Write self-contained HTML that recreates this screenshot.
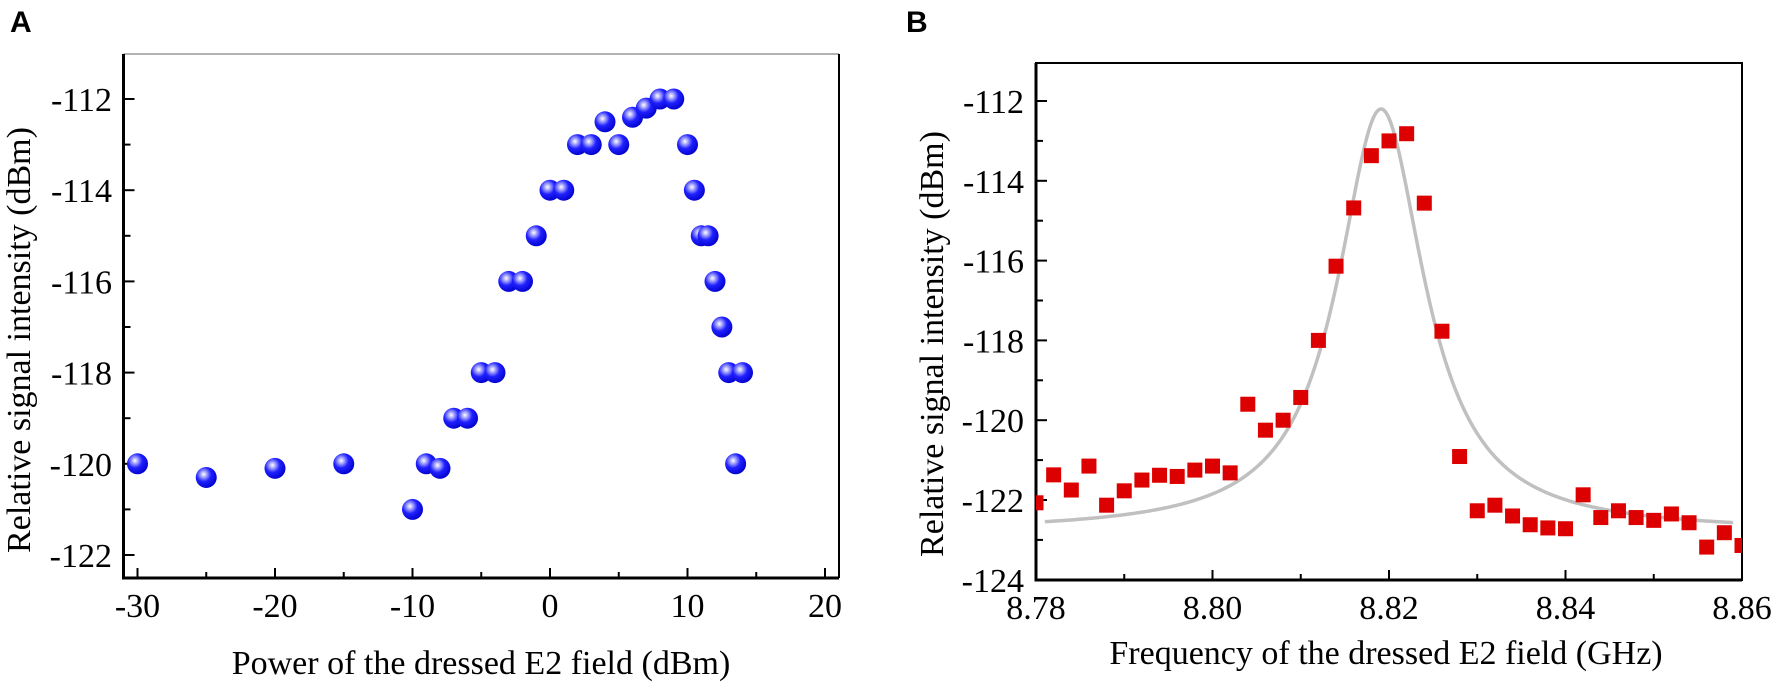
<!DOCTYPE html>
<html><head><meta charset="utf-8"><style>
html,body{margin:0;padding:0;background:#fff;}
svg{display:block;}
text{font-family:"Liberation Serif",serif;fill:#000;}
.pl{font-family:"Liberation Sans",sans-serif;font-weight:bold;font-size:30px;}
.tk{font-size:34px;}
.al{font-size:34px;}
</style></head><body>
<svg id="fig" width="1772" height="683" viewBox="0 0 1772 683" xmlns="http://www.w3.org/2000/svg">
<defs>
<radialGradient id="ball" cx="0.38" cy="0.35" r="0.7">
<stop offset="0" stop-color="#ffffff"/><stop offset="0.18" stop-color="#b0b0ff"/><stop offset="0.5" stop-color="#2020ff"/><stop offset="1" stop-color="#0000c8"/>
</radialGradient>
</defs>
<text class="pl" x="10" y="32">A</text>
<text class="pl" x="906" y="32">B</text>
<g id="pa"></g>
<g id="pb"></g>
</svg>
<script>
// Panel A data
const aX = [-30,-25,-20,-15,-10,-9,-8,-7,-6,-5,-4,-3,-2,-1,0,1,2,3,4,5,6,7,8,9,10,10.5,11,11.5,12,12.5,13,13.5,14];
const aY = [-120,-120.3,-120.1,-120,-121,-120,-120.1,-119,-119,-118,-118,-116,-116,-115,-114,-114,-113,-113,-112.5,-113,-112.4,-112.2,-112,-112,-113,-114,-115,-115,-116,-117,-118,-120,-118];
const aXTicks = [-30,-20,-10,0,10,20];
const aYTicks = [-112,-114,-116,-118,-120,-122];
// Panel B data
const bX = [8.780,8.782,8.784,8.786,8.788,8.790,8.792,8.794,8.796,8.798,8.800,8.802,8.804,8.806,8.808,8.810,8.812,8.814,8.816,8.818,8.820,8.822,8.824,8.826,8.828,8.830,8.832,8.834,8.836,8.838,8.840,8.842,8.844,8.846,8.848,8.850,8.852,8.854,8.856,8.858,8.860];
const bY = [-122.07,-121.37,-121.75,-121.15,-122.13,-121.77,-121.5,-121.38,-121.41,-121.25,-121.15,-121.32,-119.6,-120.25,-120.0,-119.43,-118.0,-116.14,-114.68,-113.37,-113.0,-112.82,-114.56,-117.77,-120.91,-122.27,-122.13,-122.4,-122.62,-122.7,-122.72,-121.87,-122.44,-122.27,-122.44,-122.51,-122.35,-122.57,-123.18,-122.82,-123.14];
const bXTicks = [8.78,8.80,8.82,8.84,8.86];
const bXTickLabels = ["8.78","8.80","8.82","8.84","8.86"];
const bYTicks = [-112,-114,-116,-118,-120,-122,-124];
const fitParams = [8.8191, 0.0060, 10.6, -122.8]; // center, width, amplitude, offset

const NS="http://www.w3.org/2000/svg";
function mk(p,tag,attrs){const e=document.createElementNS(NS,tag);for(const k in attrs)e.setAttribute(k,attrs[k]);p.appendChild(e);return e;}

// ---------- Panel A ----------
const pa=document.getElementById('pa');
const axA=v=>137.5+(v+30)*13.75;
const ayA=v=>99+(-112-v)*45.6;
const A={l:123.5,r:839,t:54,b:578};
let e;
e=mk(pa,'line',{x1:A.l,y1:A.t,x2:A.r,y2:A.t,stroke:'#999',"stroke-width":1.5});

e=mk(pa,'line',{x1:A.r,y1:A.t,x2:A.r,y2:A.b,stroke:'#000',"stroke-width":2});

e=mk(pa,'line',{x1:A.l,y1:A.t,x2:A.l,y2:A.b+1.5,stroke:'#000',"stroke-width":3});

e=mk(pa,'line',{x1:A.l,y1:A.b,x2:A.r,y2:A.b,stroke:'#000',"stroke-width":3});

for(let v=-30;v<=20;v+=5){const x=axA(v);const maj=aXTicks.includes(v);
 e=mk(pa,'line',{x1:x,y1:A.b,x2:x,y2:A.b-(maj?10:6),stroke:'#000',"stroke-width":2});
 }
aXTicks.forEach(v=>{e=mk(pa,'text',{x:axA(v),y:617,"text-anchor":"middle",class:"tk"});e.textContent=String(v);
 });
for(let v=-122;v<=-112;v+=1){const y=ayA(v);const maj=aYTicks.includes(v);
 e=mk(pa,'line',{x1:A.l,y1:y,x2:A.l+(maj?11:7),y2:y,stroke:'#000',"stroke-width":2});
 }
aYTicks.forEach(v=>{e=mk(pa,'text',{x:112,y:ayA(v)+12,"text-anchor":"end",class:"tk"});e.textContent=String(v);
 });
e=mk(pa,'text',{x:481,y:674,"text-anchor":"middle",class:"al"});e.textContent="Power of the dressed E2 field  (dBm)";

e=mk(pa,'text',{x:0,y:0,"text-anchor":"middle",class:"al",transform:"translate(30,340) rotate(-90)"});e.textContent="Relative signal intensity (dBm)";

aX.forEach((v,i)=>{e=mk(pa,'circle',{cx:axA(v),cy:ayA(aY[i]),r:10.5,fill:'url(#ball)'});
 });

// ---------- Panel B ----------
const pb=document.getElementById('pb');
const axB=v=>1036+(v-8.78)*8825;
const ayB=v=>101+(-112-v)*39.9;
const B={l:1036,r:1742,t:63,b:580};
e=mk(pb,'rect',{x:B.l,y:B.t,width:B.r-B.l,height:B.b-B.t,fill:'none',stroke:'#000',"stroke-width":2});

e=mk(pb,'line',{x1:B.l,y1:B.t,x2:B.l,y2:B.b+1.5,stroke:'#000',"stroke-width":3});

e=mk(pb,'line',{x1:B.l,y1:B.b,x2:B.r,y2:B.b,stroke:'#000',"stroke-width":3});

for(let k=0;k<=8;k++){const v=8.78+k*0.01;const x=axB(v);const maj=k%2===0;
 e=mk(pb,'line',{x1:x,y1:B.b,x2:x,y2:B.b-(maj?10:6),stroke:'#000',"stroke-width":2});
 }
bXTicks.forEach((v,i)=>{e=mk(pb,'text',{x:axB(v),y:619,"text-anchor":"middle",class:"tk"});e.textContent=bXTickLabels[i];
 });
for(let v=-124;v<=-112;v+=1){const y=ayB(v);const maj=bYTicks.includes(v);
 e=mk(pb,'line',{x1:B.l,y1:y,x2:B.l+(maj?11:7),y2:y,stroke:'#000',"stroke-width":2});
 }
bYTicks.forEach(v=>{e=mk(pb,'text',{x:1024,y:ayB(v)+12,"text-anchor":"end",class:"tk"});e.textContent=String(v);
 });
e=mk(pb,'text',{x:1386,y:664,"text-anchor":"middle",class:"al"});e.textContent="Frequency of the dressed E2 field (GHz)";

e=mk(pb,'text',{x:0,y:0,"text-anchor":"middle",class:"al",transform:"translate(943,344) rotate(-90)"});e.textContent="Relative signal intensity (dBm)";

// fit curve
let d='';
for(let i=0;i<=400;i++){const x=8.781+i*(8.859-8.781)/400;const dx=x-fitParams[0];
 const y=fitParams[3]+fitParams[2]*fitParams[1]*fitParams[1]/(dx*dx+fitParams[1]*fitParams[1]);
 d+=(i?'L':'M')+axB(x).toFixed(2)+','+ayB(y).toFixed(2);}
e=mk(pb,'path',{d:d,fill:'none',stroke:'#c0c0c0',"stroke-width":3.5});

const clip=mk(pb,'clipPath',{id:'cb'});mk(clip,'rect',{x:B.l,y:B.t,width:B.r-B.l,height:B.b-B.t});
const sg=mk(pb,'g',{"clip-path":"url(#cb)"});
bX.forEach((v,i)=>{e=mk(sg,'rect',{x:axB(v)-7.5,y:ayB(bY[i])-7.5,width:15,height:15,fill:'#dd0000'});
 });
</script>
</body></html>
